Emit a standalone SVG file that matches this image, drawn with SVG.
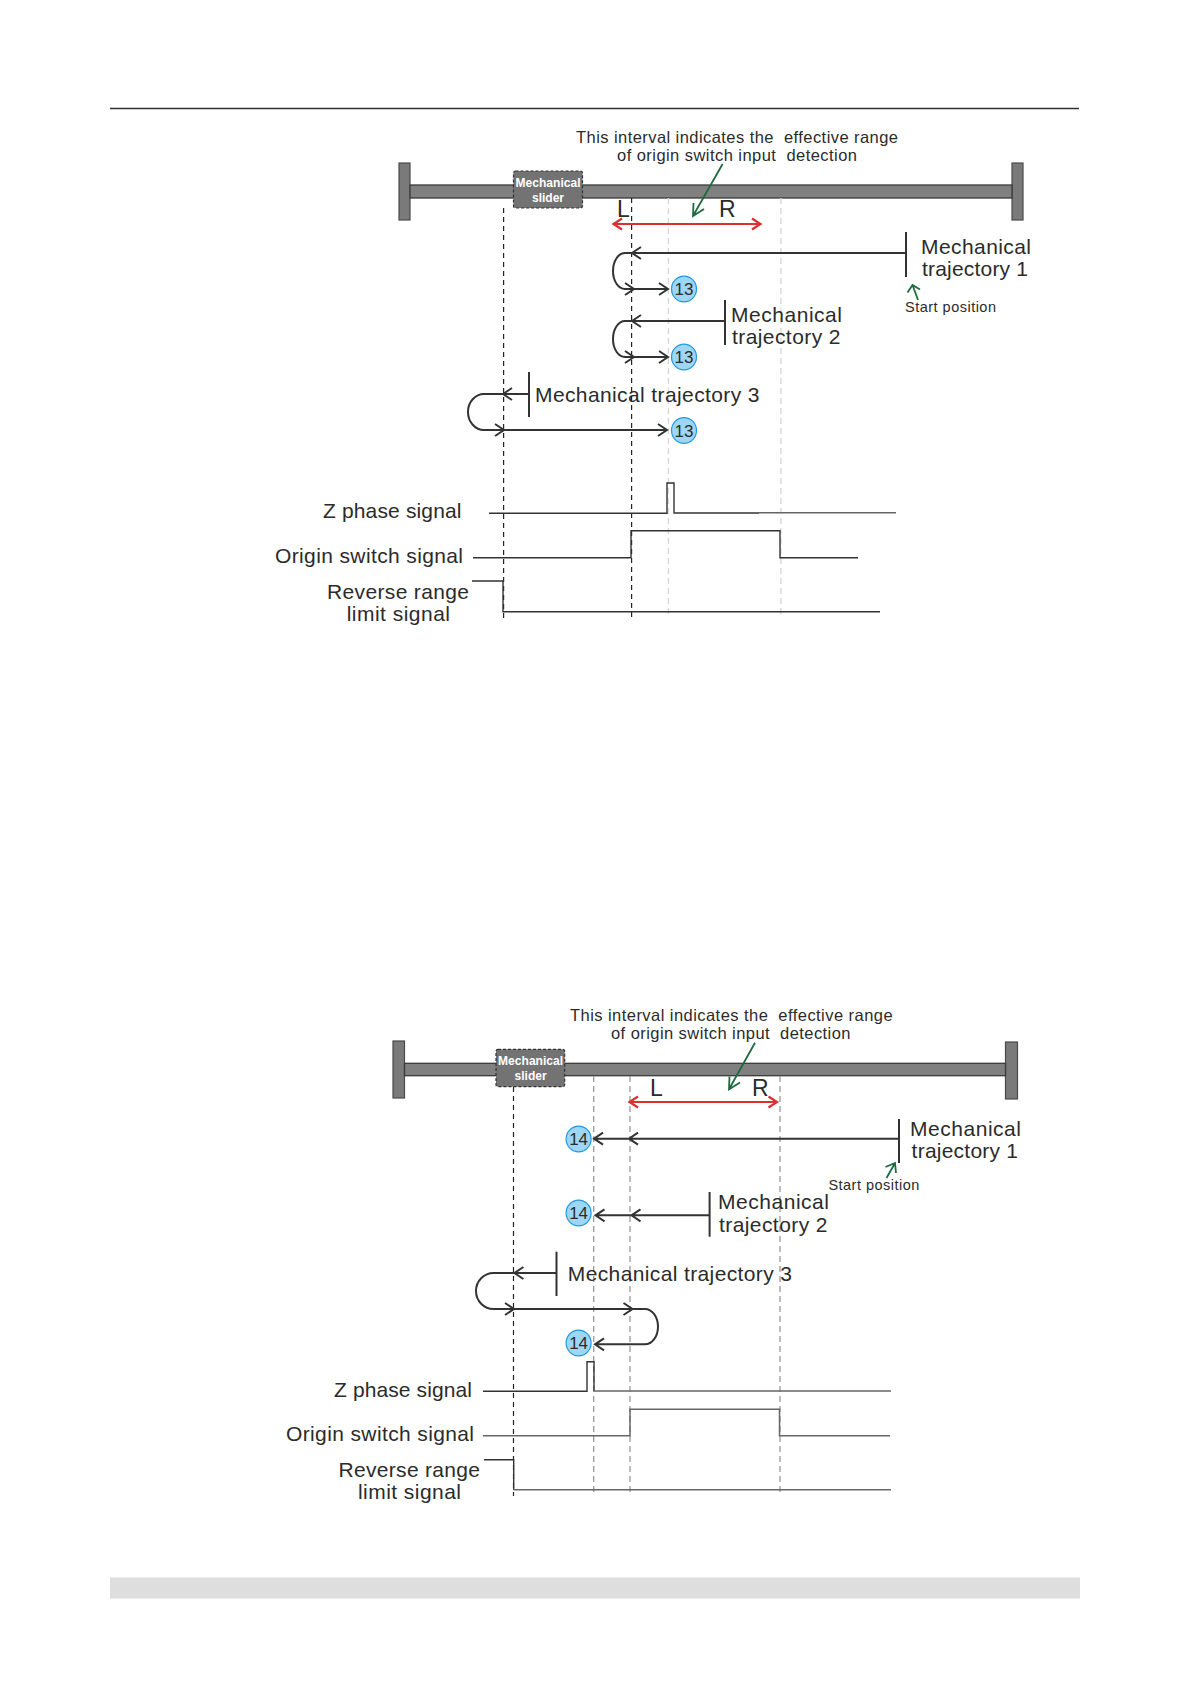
<svg xmlns="http://www.w3.org/2000/svg" width="1191" height="1684" viewBox="0 0 1191 1684">
<style>
text{font-family:"Liberation Sans",Arial,sans-serif;fill:#2b2b2b;white-space:pre}
.t15{font-size:16.5px}.t20{font-size:21px}.t14{font-size:14.5px}.t22{font-size:23px}
.sl{font-size:12px;font-weight:bold;fill:#fff;text-anchor:middle}
.n{font-size:17px;text-anchor:middle}
.post{fill:#7a7a7a;stroke:#4a4a4a;stroke-width:1.2}
.bar{fill:#808080;stroke:#3a3a3a;stroke-width:1.3}
.slider{fill:#737373;stroke:#333;stroke-width:1.2;stroke-dasharray:3 2}
.dk{fill:none;stroke:#222;stroke-width:1.2;stroke-dasharray:5 4}
.lg{fill:none;stroke:#d8d8d8;stroke-width:1.4;stroke-dasharray:6 4}
.mg{fill:none;stroke:#999;stroke-width:1.3;stroke-dasharray:6 4}
.tr{fill:none;stroke:#333;stroke-width:2}
.tick{fill:none;stroke:#333;stroke-width:2}
.red{fill:none;stroke:#dc2f2f;stroke-width:2.2}
.grn{fill:none;stroke:#1f6b40;stroke-width:1.8}
.sig{fill:none;stroke:#333;stroke-width:1.4}
.sig2{fill:none;stroke:#666;stroke-width:1.5}
.c{fill:#9ed6f6;stroke:#2299dd;stroke-width:1.2}
</style>
<g id="page">
<line x1="110" y1="108.500" x2="1079" y2="108.500" stroke="#333" stroke-width="1.4"/>
<rect x="110" y="1577.500" width="970" height="21" fill="#dedede"/>
</g>

<g id="diagram1-rail">
<rect class="post" x="399" y="163" width="11" height="57"/>
<rect class="post" x="1012" y="163" width="11" height="57"/>
<rect class="bar" x="410" y="185" width="602" height="13"/>
</g>
<g id="diagram1-slider">
<rect class="slider" x="513.500" y="171" width="69" height="37" rx="2"/>
<text class="sl" x="548" y="187" textLength="65">Mechanical</text>
<text class="sl" x="548" y="202">slider</text>
</g>
<g id="diagram1-note">
<text class="t15" x="576" y="143" textLength="322">This interval indicates the  effective range</text>
<text class="t15" x="617" y="161" textLength="240">of origin switch input  detection</text>
</g>
<g id="diagram1-range">
<text class="t22" x="617" y="217">L</text>
<text class="t22" x="719" y="217">R</text>
</g>
<g id="diagram1-connectors">
<path class="dk" d="M503.600 208V620M631.600 198V618"/>
<path class="lg" d="M668.400 198V618M780.900 198V618"/>
<path class="red" d="M613 224H761M622 218.500L613.500 224L622 229.500M752 218.500L760.500 224L752 229.500"/>
<path class="grn" d="M722.600 164L693 216M693.500 203L693 216L704 209"/>
<path class="grn" d="M918 300L912.500 285M907.500 292.500L912.500 285L920 289.500"/>
<path class="tr" d="M906 253H625A12 18 0 0 0 625 289H668M641 247L632 253L641 259M625 283L634 289L625 295M659 283L668 289L659 295"/>
<path class="tr" d="M725 321H625A12 18 0 0 0 625 357H668M641 315L632 321L641 327M625 351L634 357L625 363M659 351L668 357L659 363"/>
<path class="tr" d="M529 394H484A16 18 0 0 0 484 430H667M512 388L503 394L512 400M495 424L504 430L495 436M658 424L667 430L658 436"/>
</g>
<g id="diagram1-trajectory1">
<line class="tick" x1="906" y1="232" x2="906" y2="277"/>
<text class="t20" x="921" y="254" textLength="110">Mechanical</text>
<text class="t20" x="922" y="276" textLength="106">trajectory 1</text>
<text class="t14" x="905" y="312" textLength="91">Start position</text>
<ellipse class="c" cx="684" cy="289" rx="12.500" ry="12.800"/>
<text class="n" x="684" y="295">13</text>
</g>
<g id="diagram1-trajectory2">
<line class="tick" x1="725" y1="300" x2="725" y2="345"/>
<text class="t20" x="731" y="322" textLength="111">Mechanical</text>
<text class="t20" x="732" y="344" textLength="108.500">trajectory 2</text>
<ellipse class="c" cx="684" cy="357" rx="12.500" ry="12.800"/>
<text class="n" x="684" y="363">13</text>
</g>
<g id="diagram1-trajectory3">
<line class="tick" x1="529" y1="372" x2="529" y2="417"/>
<text class="t20" x="535" y="402" textLength="224.500">Mechanical trajectory 3</text>
<ellipse class="c" cx="684" cy="430.500" rx="12.500" ry="12.800"/>
<text class="n" x="684" y="436.500">13</text>
</g>
<g id="diagram1-signals">
<text class="t20" x="323" y="518" textLength="138.500">Z phase signal</text>
<text class="t20" x="275" y="562.500" textLength="188">Origin switch signal</text>
<text class="t20" x="327" y="599" textLength="142">Reverse range</text>
<text class="t20" x="346.700" y="621" textLength="103.300">limit signal</text>
<path class="sig" d="M489 513.300H667V483H674V513H759"/>
<path class="sig2" d="M759 512.700H896"/>
<path class="sig" d="M473 557.700H631V530.700H780V557.700H858"/>
<path class="sig" d="M472 581H503V611.700H880"/>
</g>

<g id="diagram2-rail">
<rect class="post" x="393" y="1041" width="11.500" height="57"/>
<rect class="post" x="1005.500" y="1042" width="12" height="57"/>
<rect class="bar" x="404.500" y="1063.300" width="601" height="12.400"/>
</g>
<g id="diagram2-slider">
<rect class="slider" x="496" y="1049.300" width="68.700" height="37.400" rx="2"/>
<text class="sl" x="530.600" y="1065" textLength="65">Mechanical</text>
<text class="sl" x="530.600" y="1079.700">slider</text>
</g>
<g id="diagram2-note">
<text class="t15" x="570" y="1021" textLength="322.600">This interval indicates the  effective range</text>
<text class="t15" x="611" y="1039" textLength="239.500">of origin switch input  detection</text>
</g>
<g id="diagram2-range">
<text class="t22" x="650" y="1096">L</text>
<text class="t22" x="752" y="1096">R</text>
</g>
<g id="diagram2-connectors">
<path class="dk" d="M513.500 1087V1496"/>
<path class="mg" d="M593.700 1076V1496M630 1076V1496M780 1076V1496"/>
<path class="red" d="M629 1102H777.500M638 1096.500L629.500 1102L638 1107.500M768.500 1096.500L777 1102L768.500 1107.500"/>
<path class="grn" d="M755 1042.700L729 1089.300M729.500 1076.500L729 1089.300L740 1082.500"/>
<path class="grn" d="M886.500 1178L895 1163M885.500 1167L895 1163L896 1173"/>
<path class="tr" d="M899 1138.700H594M603 1132.700L594 1138.700L603 1144.700M638 1132.700L629 1138.700L638 1144.700"/>
<path class="tr" d="M709.600 1215.300H595.500M604.500 1209.300L595.500 1215.300L604.500 1221.300M640.500 1209.300L631.500 1215.300L640.500 1221.300"/>
<path class="tr" d="M556.500 1273H493.600A17.600 18 0 0 0 493.600 1309H645A13 17.650 0 0 1 645 1344.300H595M505 1303L514 1309L505 1315M623.500 1303L632.500 1309L623.500 1315M604 1338.300L595 1344.300L604 1350.300M523.400 1267L514.400 1273L523.400 1279"/>
</g>
<g id="diagram2-trajectory1">
<line class="tick" x1="899" y1="1119" x2="899" y2="1163"/>
<text class="t20" x="910" y="1135.700" textLength="111">Mechanical</text>
<text class="t20" x="911.600" y="1157.700" textLength="106.400">trajectory 1</text>
<text class="t14" x="828.400" y="1190" textLength="91">Start position</text>
<ellipse class="c" cx="578.600" cy="1139" rx="12.500" ry="12.800"/>
<text class="n" x="578.600" y="1145">14</text>
</g>
<g id="diagram2-trajectory2">
<line class="tick" x1="709.600" y1="1192" x2="709.600" y2="1236.700"/>
<text class="t20" x="718" y="1209" textLength="111">Mechanical</text>
<text class="t20" x="719" y="1231.500" textLength="108.500">trajectory 2</text>
<ellipse class="c" cx="578.600" cy="1213" rx="12.500" ry="12.800"/>
<text class="n" x="578.600" y="1219">14</text>
</g>
<g id="diagram2-trajectory3">
<line class="tick" x1="556.500" y1="1251.700" x2="556.500" y2="1296"/>
<text class="t20" x="567.800" y="1280.700" textLength="224.200">Mechanical trajectory 3</text>
<ellipse class="c" cx="578.600" cy="1343" rx="12.500" ry="12.800"/>
<text class="n" x="578.600" y="1349">14</text>
</g>
<g id="diagram2-signals">
<text class="t20" x="334" y="1396.500" textLength="138">Z phase signal</text>
<text class="t20" x="286" y="1440.500" textLength="188">Origin switch signal</text>
<text class="t20" x="338.500" y="1477" textLength="141.500">Reverse range</text>
<text class="t20" x="358" y="1499" textLength="103">limit signal</text>
<path class="sig" d="M483 1391.300H587V1361.700H594V1391"/>
<path class="sig2" d="M594 1391H891"/>
<path class="sig2" d="M483 1435.700H630V1409.300H779.500V1435.700H890"/>
<path class="sig" d="M484 1459.700H513.700V1489.700"/>
<path class="sig2" d="M513.700 1489.700H891"/>
</g>
</svg>
